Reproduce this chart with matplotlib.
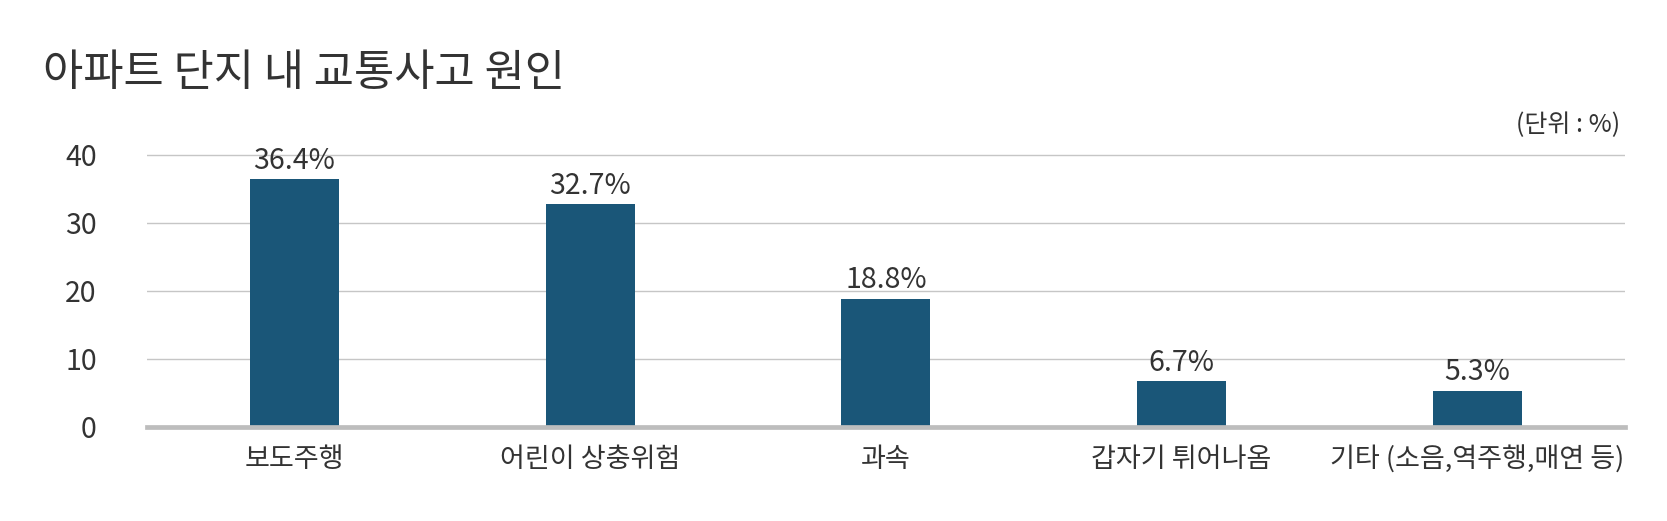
import matplotlib.pyplot as plt

plt.rcParams['font.family'] = ['Noto Sans CJK KR', 'DejaVu Sans']

# data
categories = ['보도주행', '어린이 상충위험', '과속', '갑자기 튀어나옴', '기타 (소음,역주행,매연 등)']
values = [36.4, 32.7, 18.8, 6.7, 5.3]
yticks = [0, 10, 20, 30, 40]

bar_color = '#1a5678'
text_color = '#333333'

fig = plt.figure(figsize=(16.67, 5.21), dpi=100)
ax = fig.add_axes([0.088, 0.181, 0.8868, 0.548])

x = list(range(len(categories)))
ax.bar(x, values, width=0.30, color=bar_color, zorder=2)

for xi, v in zip(x, values):
    ax.annotate(f'{v}%', (xi, v), xytext=(0, 2.5), textcoords='offset points',
                ha='center', va='bottom', fontsize=20.5, fontweight='light',
                color=text_color, zorder=3)

ax.set_xlim(-0.5, len(categories) - 0.5)
ax.set_ylim(0, 42)
ax.set_yticks(yticks)
ax.set_xticks(x)
ax.set_xticklabels(categories, fontsize=19.5, fontweight='light', color=text_color)
ax.tick_params(axis='y', length=0, pad=36, labelsize=20.5, labelcolor=text_color)
ax.tick_params(axis='x', length=0, pad=14)
for lab in ax.get_yticklabels():
    lab.set_fontweight('light')

for t in yticks[1:]:
    ax.axhline(t, color='#c6c6c6', lw=1.0, zorder=1)
ax.axhline(0, color='#bdbdbd', lw=3.4, zorder=3, clip_on=False)

for s in ax.spines.values():
    s.set_visible(False)

fig.text(0.026, 0.835, '아파트 단지 내 교통사고 원인', fontsize=31.5, fontweight='medium',
         color=text_color, ha='left', va='baseline')
fig.text(0.972, 0.76, '(단위 : %)', fontsize=18, fontweight='light',
         color=text_color, ha='right', va='center')

fig.savefig('out.png', dpi=100, facecolor='white')
